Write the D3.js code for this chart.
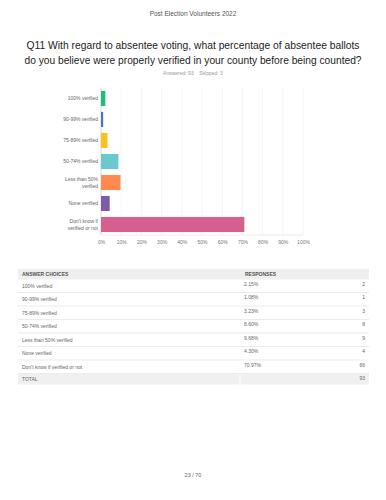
<!DOCTYPE html>
<html><head><meta charset="utf-8">
<script src="https://cdn.jsdelivr.net/npm/d3@7"></script>
<style>body{margin:0;background:#fff;} svg{display:block;font-family:"Liberation Sans",Arial,sans-serif;}</style>
</head><body>
<svg id="c" width="386" height="500"></svg>
<script>
const categories = ["100% verified","90-99% verified","75-89% verified","50-74% verified","Less than 50% verified","None verified","Don't know if verified or not"];
const chartLabels = [["100% verified"],["90-99% verified"],["75-89% verified"],["50-74% verified"],["Less than 50%","verified"],["None verified"],["Don't know if","verified or not"]];
const percents = [2.15, 1.08, 3.23, 8.60, 9.68, 4.30, 70.97];
const counts = [2, 1, 3, 8, 9, 4, 66];
const colors = ["#1fbd75","#4f73b6","#f7c31e","#6bc8cd","#ff8b4f","#7d5ba6","#d5608f"];
const xTicks = [0,10,20,30,40,50,60,70,80,90,100];
const total = 93;

const svg = d3.select("#c");
svg.append("text").attr("x",193).attr("y",15.5).attr("text-anchor","middle")
  .attr("font-size",6.5).attr("fill","#555").text("Post Election Volunteers 2022");
svg.append("text").attr("x",193).attr("y",49).attr("text-anchor","middle")
  .attr("font-size",10.5).attr("fill","#222").attr("textLength",333).attr("lengthAdjust","spacingAndGlyphs")
  .text("Q11 With regard to absentee voting, what percentage of absentee ballots");
svg.append("text").attr("x",193).attr("y",63.5).attr("text-anchor","middle")
  .attr("font-size",10.5).attr("fill","#222").attr("textLength",337).attr("lengthAdjust","spacingAndGlyphs")
  .text("do you believe were properly verified in your county before being counted?");
svg.append("text").attr("x",193).attr("y",75).attr("text-anchor","middle")
  .attr("font-size",5).attr("fill","#999").attr("xml:space","preserve").text("Answered: 93    Skipped: 3");

const x = d3.scaleLinear().domain([0,100]).range([101,303]);
const y = d3.scaleBand().domain(categories).range([88,235]).paddingInner(0.28).paddingOuter(0.14);

const g = svg.append("g");
g.selectAll("line.grid").data(xTicks).enter().append("line")
  .attr("x1",d=>x(d)).attr("x2",d=>x(d)).attr("y1",88).attr("y2",235)
  .attr("stroke","#ececec").attr("stroke-width",0.6);
g.append("line").attr("x1",x(0)).attr("x2",x(0)).attr("y1",88).attr("y2",235).attr("stroke","#ccc").attr("stroke-width",0.6);
g.append("line").attr("x1",x(0)).attr("x2",x(100)).attr("y1",235).attr("y2",235).attr("stroke","#ddd").attr("stroke-width",0.6);

g.selectAll("rect.bar").data(categories).enter().append("rect")
  .attr("x",x(0)).attr("y",d=>y(d)).attr("height",y.bandwidth())
  .attr("width",(d,i)=>x(percents[i])-x(0)).attr("fill",(d,i)=>colors[i]);

const ax = d3.axisBottom(x).tickValues(xTicks).tickFormat(d=>d+"%").tickSize(0).tickPadding(5);
const axg = g.append("g").attr("transform","translate(0,235)").call(ax);
axg.select(".domain").remove();
axg.selectAll("text").attr("font-size",5).attr("fill","#777").attr("font-family","Liberation Sans, Arial, sans-serif");

categories.forEach((c,i)=>{
  const lines = chartLabels[i];
  const cy = y(c)+y.bandwidth()/2;
  const t = g.append("text").attr("text-anchor","end").attr("font-size",5).attr("fill","#666");
  lines.forEach((l,j)=>{
    t.append("tspan").attr("x",98).attr("y",cy+1.8+(j-(lines.length-1)/2)*7).text(l);
  });
});

// table
const tx0=18, tx1=369, colX=240, rowH=13.5, headY=269;
const tb = svg.append("g");
tb.append("rect").attr("x",tx0).attr("y",headY).attr("width",tx1-tx0).attr("height",10.5).attr("fill","#efefef");
tb.append("text").attr("x",22).attr("y",headY+7.3).attr("font-size",5).attr("font-weight","bold").attr("fill","#555").text("ANSWER CHOICES");
tb.append("text").attr("x",245).attr("y",headY+7.3).attr("font-size",5).attr("font-weight","bold").attr("fill","#555").text("RESPONSES");
const r0 = headY+10;
categories.forEach((c,i)=>{
  const ry = r0 + i*rowH;
  tb.append("text").attr("x",22).attr("y",ry+8.5).attr("font-size",5).attr("fill","#666").text(c);
  tb.append("text").attr("x",244).attr("y",ry+6.8).attr("font-size",5).attr("fill","#666").text(percents[i].toFixed(2)+"%");
  tb.append("text").attr("x",365).attr("y",ry+6.8).attr("text-anchor","end").attr("font-size",5).attr("fill","#666").text(counts[i]);
  tb.append("line").attr("x1",tx0).attr("x2",tx1).attr("y1",ry+rowH).attr("y2",ry+rowH).attr("stroke","#ddd").attr("stroke-width",0.6);
});
const ty = r0 + categories.length*rowH;
tb.append("rect").attr("x",tx0).attr("y",ty).attr("width",colX-tx0-0.5).attr("height",11).attr("fill","#f0f0f0");
tb.append("rect").attr("x",colX+0.5).attr("y",ty).attr("width",tx1-colX-0.5).attr("height",11).attr("fill","#f0f0f0");
tb.append("text").attr("x",22).attr("y",ty+7.3).attr("font-size",5).attr("fill","#666").text("TOTAL");
tb.append("text").attr("x",365).attr("y",ty+6.3).attr("text-anchor","end").attr("font-size",5).attr("fill","#666").text(total);

svg.append("text").attr("x",193).attr("y",477).attr("text-anchor","middle").attr("font-size",5.5).attr("fill","#666").text("23 / 70");
</script>
</body></html>
